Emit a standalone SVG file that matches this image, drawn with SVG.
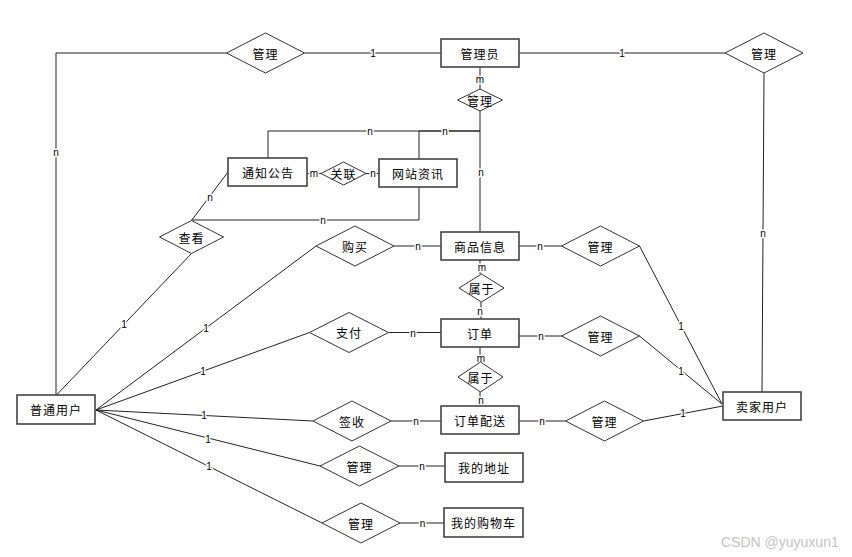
<svg xmlns="http://www.w3.org/2000/svg" width="852" height="557" viewBox="0 0 852 557">
<style>
.ent rect{fill:#fff;stroke:#444;stroke-width:1.6}
.rel polygon{fill:#fff;stroke:#333;stroke-width:1}
.t{font-family:"Noto Sans CJK SC","Liberation Sans",sans-serif;font-size:12px;letter-spacing:1px;fill:#000;text-anchor:middle;dominant-baseline:central}
.conn path{fill:none;stroke:#222;stroke-width:1}
.lb{font-family:"Liberation Sans",sans-serif;font-size:10px;fill:#000;text-anchor:middle;dominant-baseline:central;stroke:#fff;stroke-width:3px;paint-order:stroke;stroke-linejoin:round}
</style>
<rect width="852" height="557" fill="#fff"/>
<g id="connectors" class="conn">
<path d="M56,395 V53 H226.5"/>
<path d="M304.5,53 H441"/>
<path d="M519,53 H725"/>
<path d="M764,73 L762,392"/>
<path d="M480,67 V89"/>
<path d="M480,111 V232"/>
<path d="M268,158 V131 H480"/>
<path d="M419,159 V131 H480"/>
<path d="M419,187 V220 H191.5"/>
<path d="M191.5,220.5 L228,172"/>
<path d="M191.5,253.5 L56.5,395"/>
<path d="M307,173.5 H321"/>
<path d="M366,173.5 H379"/>
<path d="M316,246 L96,410"/>
<path d="M394,246 H441"/>
<path d="M309.5,332.5 L96,410"/>
<path d="M388.5,332.5 H441"/>
<path d="M313,421 L96,410"/>
<path d="M391,421 H441"/>
<path d="M320,466 L96,410"/>
<path d="M399,466 H445"/>
<path d="M322,523 L96,410"/>
<path d="M400,523 H444"/>
<path d="M519,246 H561.5"/>
<path d="M519,336 H561.5"/>
<path d="M519,421 H565.5"/>
<path d="M639.5,246 L722,404"/>
<path d="M639.5,336 L722,404"/>
<path d="M643.5,421 L723,406"/>
<path d="M480,260 V274"/>
<path d="M481,302 V319"/>
<path d="M480,347 V362"/>
<path d="M480,392 V406"/>
<g id="labels">
<text class="lb" x="56" y="152">n</text>
<text class="lb" x="373" y="53">1</text>
<text class="lb" x="622" y="53">1</text>
<text class="lb" x="763" y="233">n</text>
<text class="lb" x="480" y="79">m</text>
<text class="lb" x="481" y="172">n</text>
<text class="lb" x="370" y="131">n</text>
<text class="lb" x="445" y="131">n</text>
<text class="lb" x="323" y="220">n</text>
<text class="lb" x="210" y="197">n</text>
<text class="lb" x="124" y="324">1</text>
<text class="lb" x="314" y="173.5">m</text>
<text class="lb" x="373" y="173.5">n</text>
<text class="lb" x="206" y="328">1</text>
<text class="lb" x="418" y="246">n</text>
<text class="lb" x="203" y="371">1</text>
<text class="lb" x="413" y="333">n</text>
<text class="lb" x="204" y="415.5">1</text>
<text class="lb" x="416" y="421">n</text>
<text class="lb" x="208" y="439">1</text>
<text class="lb" x="422" y="466.5">n</text>
<text class="lb" x="209" y="466.5">1</text>
<text class="lb" x="422.5" y="523.5">n</text>
<text class="lb" x="540" y="246">n</text>
<text class="lb" x="541" y="336">n</text>
<text class="lb" x="542" y="421">n</text>
<text class="lb" x="681" y="326">1</text>
<text class="lb" x="681" y="371">1</text>
<text class="lb" x="683" y="413">1</text>
<text class="lb" x="482" y="267">m</text>
<text class="lb" x="480" y="311">n</text>
<text class="lb" x="481" y="358">m</text>
<text class="lb" x="481" y="400">n</text>
</g>
</g>
<g id="admin" class="ent"><rect x="441" y="39" width="78" height="28"/><text class="t" x="480" y="53">管理员</text></g>
<g id="notice" class="ent"><rect x="228" y="158" width="79" height="28"/><text class="t" x="268" y="172">通知公告</text></g>
<g id="news" class="ent"><rect x="379" y="159" width="78" height="28"/><text class="t" x="418" y="173">网站资讯</text></g>
<g id="goods" class="ent"><rect x="441" y="232" width="78" height="28"/><text class="t" x="480" y="246">商品信息</text></g>
<g id="order" class="ent"><rect x="441" y="319" width="78" height="28"/><text class="t" x="480" y="333">订单</text></g>
<g id="delivery" class="ent"><rect x="441" y="406" width="78" height="28"/><text class="t" x="480" y="420">订单配送</text></g>
<g id="seller" class="ent"><rect x="723" y="392" width="78" height="28"/><text class="t" x="762" y="406">卖家用户</text></g>
<g id="user" class="ent"><rect x="17" y="395" width="78" height="29"/><text class="t" x="56" y="409.5">普通用户</text></g>
<g id="address" class="ent"><rect x="445" y="453" width="78" height="29"/><text class="t" x="484" y="467.5">我的地址</text></g>
<g id="cart" class="ent"><rect x="444" y="508" width="79" height="29"/><text class="t" x="483.5" y="522.5">我的购物车</text></g>
<g id="r_admin_user" class="rel"><polygon points="226.5,53 265.5,33 304.5,53 265.5,73"/><text class="t" x="265.5" y="53">管理</text></g>
<g id="r_admin_seller" class="rel"><polygon points="725,53 764,33 803,53 764,73"/><text class="t" x="764" y="53">管理</text></g>
<g id="r_admin_content" class="rel"><polygon points="457.5,100 480,89 502.5,100 480,111"/><text class="t" x="480" y="100">管理</text></g>
<g id="r_link" class="rel"><polygon points="321,173.5 343.5,162 366,173.5 343.5,185"/><text class="t" x="343.5" y="173.5">关联</text></g>
<g id="r_view" class="rel"><polygon points="159.5,237 191.5,220.5 223.5,237 191.5,253.5"/><text class="t" x="191.5" y="237">查看</text></g>
<g id="r_buy" class="rel"><polygon points="316,246 355,226 394,246 355,266"/><text class="t" x="355" y="246">购买</text></g>
<g id="r_pay" class="rel"><polygon points="309.5,332.5 349,312.5 388.5,332.5 349,352.5"/><text class="t" x="349" y="332.5">支付</text></g>
<g id="r_sign" class="rel"><polygon points="313,421 352,401 391,421 352,441"/><text class="t" x="352" y="421">签收</text></g>
<g id="r_addr" class="rel"><polygon points="320,466 359.5,446 399,466 359.5,486"/><text class="t" x="359.5" y="466">管理</text></g>
<g id="r_cart" class="rel"><polygon points="322,523 361,503 400,523 361,543"/><text class="t" x="361" y="523">管理</text></g>
<g id="r_goods_seller" class="rel"><polygon points="561.5,246 600.5,226 639.5,246 600.5,266"/><text class="t" x="600.5" y="246">管理</text></g>
<g id="r_belong1" class="rel"><polygon points="459,288 481.5,274 504,288 481.5,302"/><text class="t" x="481.5" y="288">属于</text></g>
<g id="r_order_seller" class="rel"><polygon points="561.5,336 600.5,316 639.5,336 600.5,356"/><text class="t" x="600.5" y="336">管理</text></g>
<g id="r_belong2" class="rel"><polygon points="458,377 480.5,362 503,377 480.5,392"/><text class="t" x="480.5" y="377">属于</text></g>
<g id="r_deliv_seller" class="rel"><polygon points="565.5,421 604.5,401 643.5,421 604.5,441"/><text class="t" x="604.5" y="421">管理</text></g>
<text x="721" y="547" font-family="Liberation Sans, sans-serif" font-size="14" fill="#c4c4c4">CSDN @yuyuxun1</text>
</svg>
